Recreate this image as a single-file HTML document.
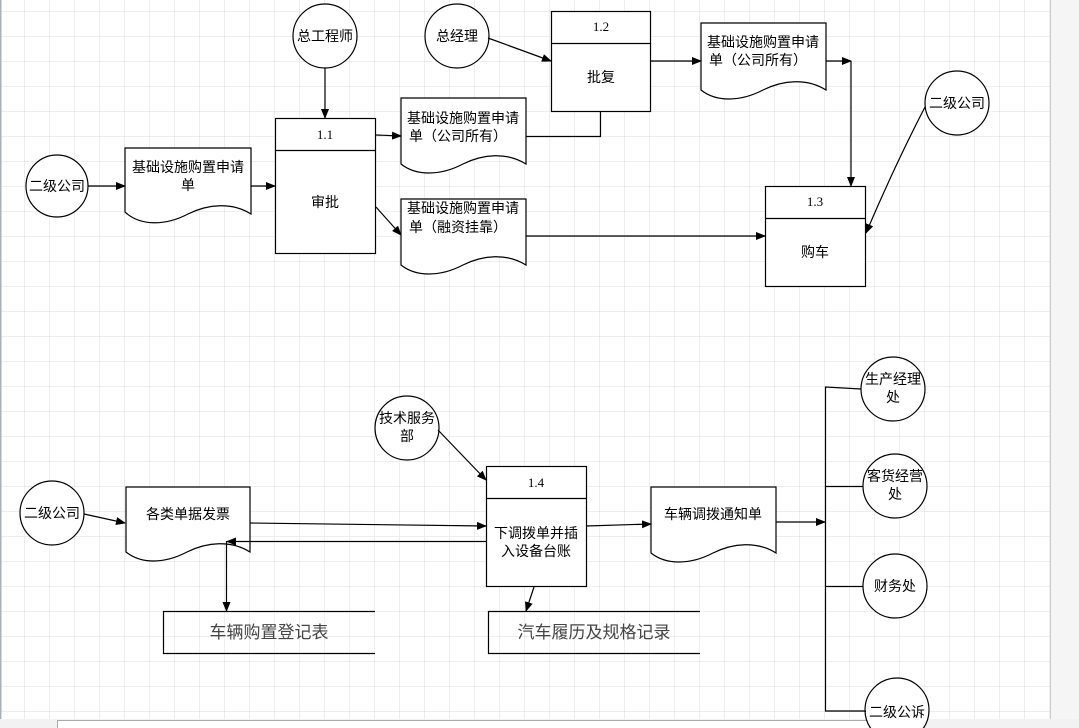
<!DOCTYPE html>
<html><head><meta charset="utf-8"><style>
html,body{margin:0;padding:0;background:#fff;}
svg{display:block;}
text{font-family:"Liberation Sans","Noto Sans CJK SC",sans-serif;font-size:14px;fill:#000;}
.n{font-family:"Liberation Serif","Noto Serif CJK SC",serif;font-size:13px;}
.g{font-size:17px;fill:#444;}
</style></head><body>
<svg width="1079" height="728" viewBox="0 0 1079 728" xmlns="http://www.w3.org/2000/svg">
<defs>
<pattern id="grid" x="0" y="12" width="25" height="25" patternUnits="userSpaceOnUse">
<path d="M25 0V25M0 25H25" fill="none" stroke="#dcdcdc" stroke-width="1"/>
</pattern>
<marker id="a" markerWidth="10" markerHeight="8" refX="9" refY="4" orient="auto" markerUnits="userSpaceOnUse">
<path d="M0,0 L10,4 L0,8 Z" fill="#000"/>
</marker>
</defs>
<rect x="0" y="0" width="1050" height="720" fill="#fff"/>
<rect x="0" y="0" width="1050" height="720" fill="url(#grid)"/>
<rect x="1050" y="0" width="29" height="728" fill="#f5f5f5"/>
<line x1="1050.5" y1="0" x2="1050.5" y2="720" stroke="#ccc"/>
<rect x="0" y="0" width="1.5" height="720" fill="#a8b0b8"/>
<rect x="0" y="719" width="1079" height="9" fill="#f2f2f2"/>
<rect x="57.5" y="720.5" width="825" height="8" fill="#fff" stroke="#aaa"/>

<g fill="#fff" stroke="#000" stroke-width="1.2">
<!-- circles -->
<circle cx="325" cy="36" r="32"/>
<circle cx="457" cy="36" r="32"/>
<circle cx="57" cy="186" r="31"/>
<circle cx="957" cy="103" r="32"/>
<circle cx="407" cy="428" r="32"/>
<circle cx="52" cy="513" r="32"/>
<circle cx="893" cy="389" r="32"/>
<circle cx="895" cy="486" r="32"/>
<circle cx="895" cy="586" r="32"/>
<circle cx="897" cy="710" r="32"/>
<!-- process boxes -->
<rect x="275.5" y="118.5" width="100" height="135"/>
<rect x="551.5" y="11.5" width="99" height="100"/>
<rect x="765.5" y="186.5" width="100" height="100"/>
<rect x="486.5" y="466.5" width="100" height="120"/>
<!-- documents -->
<path d="M125,148 H251 V214 C232,202 208,204 188,214 C165,226 140,226 125,212 Z"/>
<path d="M401,98 H526 V164 C507,152 483,154 463,164 C440,176 416,176 401,164 Z"/>
<path d="M401,199 H526 V265 C507,253 483,255 463,265 C440,277 416,277 401,265 Z"/>
<path d="M701,23 H826 V90 C807,78 783,80 763,90 C740,102 716,102 701,90 Z"/>
<path d="M126,487 H250 V552 C231,540 207,542 187,552 C164,564 141,564 126,552 Z"/>
<path d="M651,487 H776 V553 C757,541 733,543 713,553 C690,565 666,565 651,553 Z"/>
</g>
<g stroke="#000" stroke-width="1.2" fill="none">
<line x1="275.5" y1="150.5" x2="375.5" y2="150.5"/>
<line x1="551.5" y1="43.5" x2="650.5" y2="43.5"/>
<line x1="765.5" y1="218.5" x2="865.5" y2="218.5"/>
<line x1="486.5" y1="498.5" x2="586.5" y2="498.5"/>
<!-- store boxes -->
<path d="M375,611.5 H163.5 V653.5 H375"/>
<path d="M700,611.5 H488.5 V653.5 H700"/>
<!-- connectors -->
<line x1="88" y1="186" x2="125" y2="186" marker-end="url(#a)"/>
<line x1="251" y1="186" x2="275" y2="186" marker-end="url(#a)"/>
<line x1="325" y1="68" x2="325" y2="118" marker-end="url(#a)"/>
<line x1="376" y1="135" x2="401" y2="136" marker-end="url(#a)"/>
<line x1="376" y1="207" x2="401" y2="235" marker-end="url(#a)"/>
<path d="M526,136.5 H600.5 V111"/>
<line x1="488" y1="38" x2="551" y2="61" marker-end="url(#a)"/>
<line x1="651" y1="61" x2="701" y2="61" marker-end="url(#a)"/>
<line x1="826" y1="61" x2="851" y2="61" marker-end="url(#a)"/>
<line x1="851" y1="61" x2="851" y2="186" marker-end="url(#a)"/>
<line x1="526" y1="236" x2="765" y2="236" marker-end="url(#a)"/>
<path d="M925,107 Q895,165 866,233" marker-end="url(#a)"/>
<line x1="84" y1="514" x2="125" y2="523" marker-end="url(#a)"/>
<line x1="250" y1="523" x2="486" y2="526" marker-end="url(#a)"/>
<line x1="486" y1="541.5" x2="227" y2="541.5" marker-end="url(#a)"/>
<line x1="226.5" y1="541" x2="226.5" y2="611" marker-end="url(#a)"/>
<line x1="438" y1="430" x2="486" y2="480" marker-end="url(#a)"/>
<line x1="534" y1="587" x2="526" y2="611" marker-end="url(#a)"/>
<line x1="586" y1="526" x2="651" y2="524" marker-end="url(#a)"/>
<line x1="776" y1="522" x2="825" y2="522" marker-end="url(#a)"/>
<path d="M861,389 L825.5,387 V711 H866"/>
<line x1="825" y1="486.5" x2="863" y2="486.5"/>
<line x1="825" y1="586.5" x2="863" y2="586.5"/>
</g>
<g text-anchor="middle">
<text x="325" y="41">总工程师</text>
<text x="457" y="41">总经理</text>
<text x="57" y="191">二级公司</text>
<text x="957" y="108">二级公司</text>
<text x="407" y="423">技术服务</text>
<text x="407" y="441">部</text>
<text x="52" y="518">二级公司</text>
<text x="893" y="384">生产经理</text>
<text x="893" y="402">处</text>
<text x="895" y="481">客货经营</text>
<text x="895" y="499">处</text>
<text x="895" y="591">财务处</text>
<text x="897" y="717">二级公诉</text>
<text x="188" y="172">基础设施购置申请</text>
<text x="188" y="190">单</text>
<text x="463" y="123">基础设施购置申请</text>
<text x="458" y="141">单（公司所有）</text>
<text x="463" y="213">基础设施购置申请</text>
<text x="458" y="232">单（融资挂靠）</text>
<text x="763" y="47">基础设施购置申请</text>
<text x="758" y="65">单（公司所有）</text>
<text x="188" y="519">各类单据发票</text>
<text x="713" y="519">车辆调拨通知单</text>
<text class="n" x="325" y="139">1.1</text>
<text class="n" x="601" y="31">1.2</text>
<text class="n" x="815" y="206">1.3</text>
<text class="n" x="536" y="487">1.4</text>
<text x="325" y="207">审批</text>
<text x="601" y="82">批复</text>
<text x="815" y="257">购车</text>
<text x="536" y="538">下调拨单并插</text>
<text x="536" y="556">入设备台账</text>
<text class="g" x="269" y="638">车辆购置登记表</text>
<text class="g" x="594" y="638">汽车履历及规格记录</text>
</g>
</svg>
</body></html>
